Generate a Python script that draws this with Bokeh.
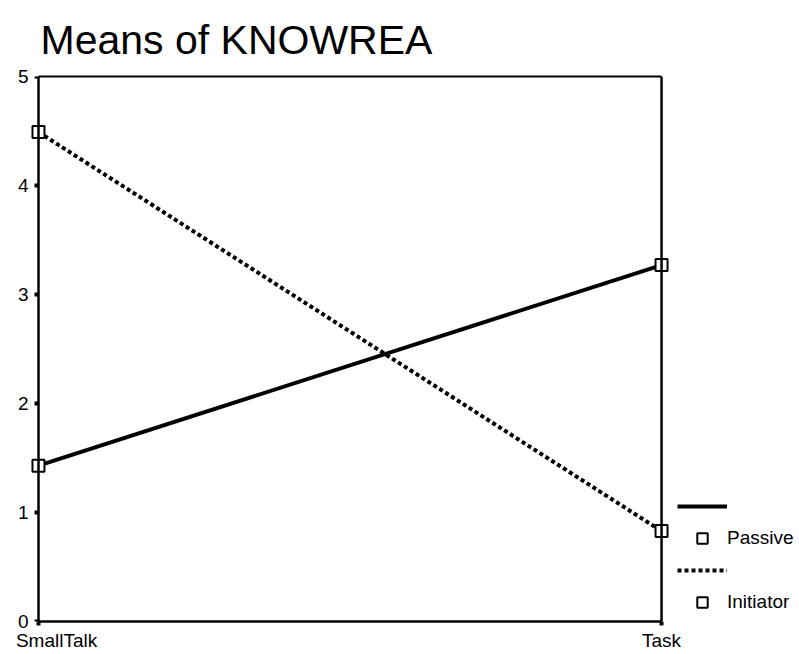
from bokeh.plotting import figure
from bokeh.models import (Range1d, FixedTicker, LinearAxis, Span,
                          Legend, LegendItem)
from bokeh.embed import file_html
from bokeh.resources import INLINE

# ---- data ----
categories = ["SmallTalk", "Task"]
passive = [1.43, 3.27]
initiator = [4.49, 0.83]
series_names = ["Passive", "Initiator"]
y_ticks = [0, 1, 2, 3, 4, 5]

FONT = "Liberation Sans"
xs = list(range(len(categories)))
LEFT_PAD = 0.016      # room for the first markers
RIGHT_PAD = 0.215     # room for the legend on the right
LABEL_SHIFT = 0.029   # first category label sits a little right of its tick

p = figure(width=799, height=654, output_backend="svg", toolbar_location=None,
           x_range=Range1d(-LEFT_PAD, len(categories) - 1 + RIGHT_PAD),
           y_range=Range1d(0, 5),
           x_axis_location=None, y_axis_location=None,
           min_border_left=28, min_border_right=4, min_border_top=75,
           min_border_bottom=33, title="Means of KNOWREA")
p.background_fill_color = "white"
p.border_fill_color = "white"
p.outline_line_color = None
p.xgrid.visible = False
p.ygrid.visible = False

p.title.text_font = FONT
p.title.text_font_size = "41px"
p.title.text_font_style = "normal"
p.title.text_color = "black"
p.title.align = "left"
p.title.offset = 12
p.title.standoff = 28

# y axis line + tick squares at the first category (no labels drawn)
ya = LinearAxis(ticker=FixedTicker(ticks=y_ticks), fixed_location=xs[0])
ya.axis_line_width = 2.5
ya.axis_line_color = "black"
ya.major_tick_in = 0
ya.major_tick_out = 4
ya.major_tick_line_width = 4
ya.major_tick_line_color = "black"
ya.minor_tick_line_color = None
ya.major_label_text_font_size = "0px"
ya.major_label_text_color = None
ya.major_label_standoff = 0
p.add_layout(ya, "left")

# y tick labels (left panel, outside the frame)
yl = LinearAxis(ticker=FixedTicker(ticks=y_ticks))
yl.axis_line_color = None
yl.major_tick_line_color = None
yl.minor_tick_line_color = None
yl.major_tick_in = 0
yl.major_tick_out = 0
yl.major_label_text_font = FONT
yl.major_label_text_font_size = "19px"
yl.major_label_text_color = "black"
yl.major_label_standoff = 0
p.add_layout(yl, "left")

# x axis: line, tick squares (minor ticks) and category labels
label_ticks = [xs[0] + LABEL_SHIFT] + xs[1:]
xa = LinearAxis(ticker=FixedTicker(ticks=label_ticks, minor_ticks=xs),
                bounds=(xs[0], xs[-1]))
xa.axis_line_width = 2.5
xa.axis_line_color = "black"
xa.major_tick_line_color = None
xa.major_tick_in = 0
xa.major_tick_out = 0
xa.minor_tick_in = 0
xa.minor_tick_out = 4
xa.minor_tick_line_width = 4
xa.minor_tick_line_color = "black"
xa.major_label_overrides = {t: c for t, c in zip(label_ticks, categories)}
xa.major_label_text_font = FONT
xa.major_label_text_font_size = "19px"
xa.major_label_text_color = "black"
xa.major_label_standoff = 4
p.add_layout(xa, "below")

# top border line
xt = LinearAxis(ticker=FixedTicker(ticks=[]), bounds=(xs[0], xs[-1]))
xt.axis_line_width = 2
xt.axis_line_color = "black"
xt.major_tick_line_color = None
xt.minor_tick_line_color = None
xt.major_tick_out = 0
xt.major_label_text_color = None
xt.major_label_standoff = 0
p.add_layout(xt, "above")

# right border line at the last category
p.add_layout(Span(location=xs[-1], dimension="height", line_color="black",
                  line_width=2.5))

# series
l1 = p.line(xs, passive, line_color="black", line_width=4)
m1 = p.scatter(xs, passive, marker="square", size=12, fill_color="white",
               line_color="black", line_width=2)
l2 = p.line(xs, initiator, line_color="black", line_width=4, line_dash="4 3")
m2 = p.scatter(xs, initiator, marker="square", size=12, fill_color="white",
               line_color="black", line_width=2)

legend = Legend(items=[
    LegendItem(label=" ", renderers=[l1]),
    LegendItem(label=series_names[0], renderers=[m1]),
    LegendItem(label=" ", renderers=[l2]),
    LegendItem(label=series_names[1], renderers=[m2]),
], location=(649, 6), padding=0, margin=0, spacing=6,
    glyph_width=50, glyph_height=26, label_height=26, label_standoff=-5,
    label_text_font=FONT, label_text_font_size="19px",
    label_text_color="black",
    border_line_color=None, background_fill_alpha=0)
p.add_layout(legend, "center")

open("out.html", "w").write(file_html(p, INLINE))
